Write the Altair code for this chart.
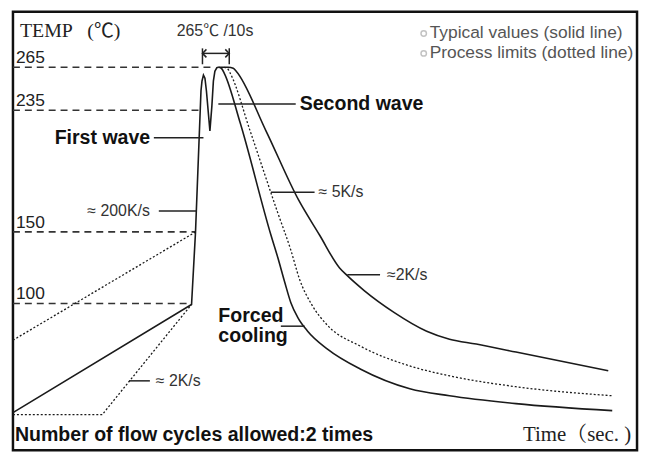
import altair as alt
import pandas as pd

# ---------------- data (time units, temperature °C) ----------------
# solid profile: preheat ramp, first wave, second wave
rise_t = [0, 180, 184, 189.5, 190.5, 192, 193.5, 195, 198.5, 200.5, 202, 203.5, 205.5, 207]
rise_T = [23.7, 99.3, 149.9, 248.4, 255.3, 259.5, 257.4, 248.4, 220.6, 238.0, 255.3, 262.2, 264.7, 265.0]
# slow natural cooling (outer solid)
outer_t = [207, 217, 222, 225, 255, 288, 309, 329, 337, 354, 384, 417, 440, 467, 507, 600]
outer_T = [265.0, 265.0, 264.3, 262.2, 220.6, 172.1, 147.8, 125.0, 119.4, 109.0, 93.8, 80.6, 75.0, 71.6, 66.0, 52.9]
# forced cooling (inner solid)
inner_t = [207, 210, 213, 229, 260, 267, 274, 280, 287, 297, 317, 350, 400, 440, 507, 604]
inner_T = [265.0, 264.3, 260.8, 226.2, 147.8, 131.9, 114.6, 100.7, 90.3, 80.6, 68.1, 54.2, 40.4, 35.5, 30.0, 25.1]
# process limit cooling (dotted)
limit_t = [213, 216, 219, 239, 267, 280, 289, 301, 317, 350, 400, 440, 507, 604]
limit_T = [265.0, 264.3, 260.8, 220.6, 163.1, 137.4, 116.6, 99.3, 84.7, 70.2, 56.3, 49.4, 41.8, 35.5]
# process limit preheat (dotted)
pre_hi_t = [0, 184]
pre_hi_T = [74.3, 149.9]
pre_lo_t = [0, 90, 180]
pre_lo_T = [22.3, 22.3, 99.3]

# reference levels
ref_levels = [265, 235, 150, 100]
ref_end = [199, 187, 184, 180]
ref_labels = ["265", "235", "150", "100"]

# leader lines (t0, t1, T)
lead_t0 = [207, 142, 147, 260, 337, 270, 117]
lead_t1 = [285, 192, 185, 304, 370, 294, 138]
lead_T = [239.4, 215.8, 164.5, 177.7, 120.1, 84.1, 45.9]

# 265°C / 10s dimension marker
dim_t = [191, 218]
dim_T0 = [267.1, 267.1]
dim_T1 = [278.2, 278.2]
dim_arrow_T = 274.7
chev_t = [195, 191, 195, 214, 218, 214]
chev_T = [277.5, 274.7, 271.9, 277.5, 274.7, 271.9]
chev_id = ["l", "l", "l", "r", "r", "r"]

# texts
bold_text = ["First wave", "Second wave", "Forced", "cooling", "Number of flow cycles allowed:2 times"]
bold_t = [42, 289, 207, 207, 2]
bold_T = [215.8, 239.4, 91.0, 77.1, 7.8]

note_text = ["≈ 200K/s", "≈ 5K/s", "≈2K/s", "≈ 2K/s", "265℃ /10s"]
note_t = [75, 308, 377, 144, 165]
note_T = [164.5, 177.7, 120.1, 45.9, 290.0]

legend_text = ["Typical values (solid  line)", "Process limits (dotted  line)"]
legend_t = [420, 420]
legend_T = [288.6, 274.7]
legend_dot_t = [414, 414]

serif_text = ["TEMP", "(℃)"]
serif_t = [7, 75]
serif_T = [290.0, 290.0]
xlabel = "Time（sec. )"
xlabel_t = 623
xlabel_T = 7.8

# ---------------- chart ----------------
XD = [0, 629]
YD = [-2.6, 303.8]


def X(f):
    return alt.X(f, type="quantitative", scale=alt.Scale(domain=XD, nice=False, zero=False), axis=None)


def Y(f):
    return alt.Y(f, type="quantitative", scale=alt.Scale(domain=YD, nice=False, zero=False), axis=None)


def curve(ts, Ts, name):
    return pd.DataFrame({"t": ts, "T": Ts, "s": name, "i": range(len(ts))})


ink = "#1a1a1a"

rise = alt.Chart(curve(rise_t, rise_T, "rise")).mark_line(color=ink, strokeWidth=1.6).encode(
    x=X("t"), y=Y("T"), order="i:Q")
cool = alt.Chart(pd.concat([curve(outer_t, outer_T, "outer"), curve(inner_t, inner_T, "inner")])).mark_line(
    color=ink, strokeWidth=1.6, interpolate="monotone").encode(x=X("t"), y=Y("T"), detail="s:N")
lim = alt.Chart(curve(limit_t, limit_T, "limit")).mark_line(
    color=ink, strokeWidth=1.3, strokeDash=[2, 2], interpolate="monotone").encode(x=X("t"), y=Y("T"))
pre = alt.Chart(pd.concat([curve(pre_hi_t, pre_hi_T, "hi"), curve(pre_lo_t, pre_lo_T, "lo")])).mark_line(
    color=ink, strokeWidth=1.3, strokeDash=[2, 2]).encode(x=X("t"), y=Y("T"), detail="s:N", order="i:Q")

ref_df = pd.DataFrame({"T": ref_levels, "t0": [0] * 4, "t1": ref_end, "lab": ref_labels, "tl": [3] * 4})
refs = alt.Chart(ref_df).mark_rule(color="#333", strokeWidth=1.6, strokeDash=[7, 5]).encode(
    x=X("t0"), x2="t1:Q", y=Y("T"))
ref_lab = alt.Chart(ref_df).mark_text(align="left", baseline="alphabetic", dy=-4, fontSize=17.5,
                                      font="Liberation Sans", color="#222").encode(
    x=X("tl"), y=Y("T"), text="lab:N")

lead_df = pd.DataFrame({"t0": lead_t0, "t1": lead_t1, "T": lead_T})
leads = alt.Chart(lead_df).mark_rule(color="#222", strokeWidth=1.5).encode(x=X("t0"), x2="t1:Q", y=Y("T"))

dim_df = pd.DataFrame({"t": dim_t, "T0": dim_T0, "T1": dim_T1})
dims = alt.Chart(dim_df).mark_rule(color="#222", strokeWidth=1.5).encode(x=X("t"), y=Y("T0"), y2="T1:Q")
dim_line = alt.Chart(pd.DataFrame({"t0": [dim_t[0]], "t1": [dim_t[1]], "T": [dim_arrow_T]})).mark_rule(
    color="#222", strokeWidth=1.5).encode(x=X("t0"), x2="t1:Q", y=Y("T"))
chev = alt.Chart(pd.DataFrame({"t": chev_t, "T": chev_T, "c": chev_id, "i": range(6)})).mark_line(
    color="#222", strokeWidth=1.5).encode(x=X("t"), y=Y("T"), detail="c:N", order="i:Q")

bold = alt.Chart(pd.DataFrame({"t": bold_t, "T": bold_T, "txt": bold_text})).mark_text(
    align="left", baseline="middle", fontSize=19.7, fontWeight="bold", font="Liberation Sans", color="#111").encode(
    x=X("t"), y=Y("T"), text="txt:N")
notes = alt.Chart(pd.DataFrame({"t": note_t, "T": note_T, "txt": note_text})).mark_text(
    align="left", baseline="middle", fontSize=16, font="Liberation Sans, Noto Sans CJK SC", color="#333").encode(
    x=X("t"), y=Y("T"), text="txt:N")
leg = alt.Chart(pd.DataFrame({"t": legend_t, "T": legend_T, "txt": legend_text})).mark_text(
    align="left", baseline="middle", fontSize=17.5, font="Liberation Sans", color="#555").encode(
    x=X("t"), y=Y("T"), text="txt:N")
leg_dot = alt.Chart(pd.DataFrame({"t": legend_dot_t, "T": legend_T})).mark_point(
    shape="circle", size=30, filled=False, color="#aaa", strokeWidth=1.5).encode(x=X("t"), y=Y("T"))
serif = alt.Chart(pd.DataFrame({"t": serif_t, "T": serif_T, "txt": serif_text})).mark_text(
    align="left", baseline="middle", fontSize=20, font="Liberation Serif, Noto Sans CJK SC", color="#222").encode(
    x=X("t"), y=Y("T"), text="txt:N")
xlab = alt.Chart(pd.DataFrame({"t": [xlabel_t], "T": [xlabel_T], "txt": [xlabel]})).mark_text(
    align="right", baseline="middle", fontSize=21, font="Liberation Serif, Noto Serif CJK SC, Noto Sans CJK SC",
    color="#222").encode(x=X("t"), y=Y("T"), text="txt:N")

chart = alt.layer(refs, pre, lim, rise, cool, leads, dims, dim_line, chev, ref_lab, bold, notes, leg, leg_dot,
                  serif, xlab).properties(
    width=629, height=442, autosize=alt.AutoSizeParams(type="none"),
    padding={"left": 5, "top": 2, "right": 4, "bottom": 2}, background="white"
).configure_view(stroke="#111", strokeWidth=2.5)

chart.save("out.html", embed_options={"renderer": "svg", "actions": False})
